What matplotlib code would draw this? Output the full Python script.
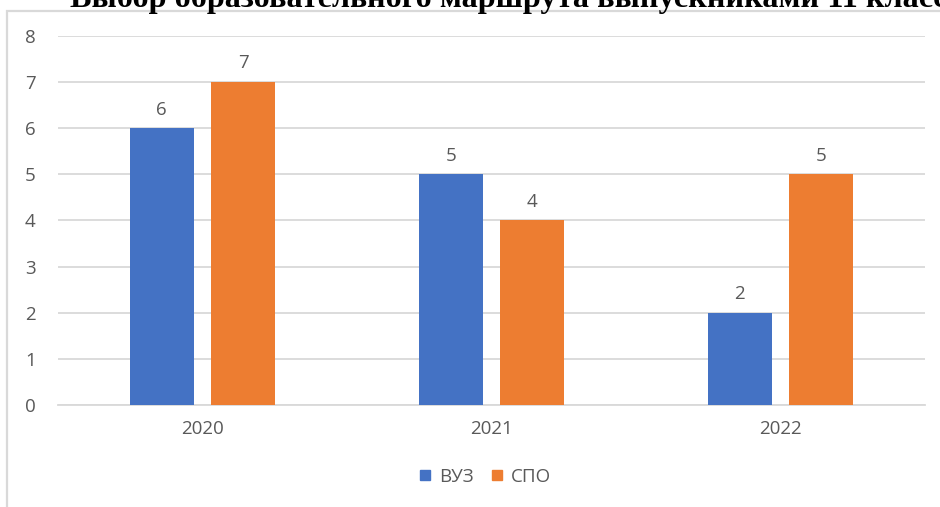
import numpy as np
from matplotlib import pyplot as plt
from matplotlib.patches import Rectangle
from matplotlib.lines import Line2D

years = ["2020", "2021", "2022"]
vuz = [6, 5, 2]
spo = [7, 4, 5]
series_names = ["ВУЗ", "СПО"]
title = "Выбор образовательного маршрута выпускниками 11 класса"

BLUE = "#4472c4"
ORANGE = "#ed7d31"
GREY_TEXT = "#595959"
GRID = "#d9d9d9"

plt.rcParams['font.family'] = ['Open Sans', 'DejaVu Sans']

fig = plt.figure(figsize=(9.4, 5.07), dpi=100)
W, H = 940, 507

# outer chart frame (only left and top edges visible)
fig.add_artist(Rectangle((7 / W, -0.1), 1.2, 1 - 11 / H + 0.1, transform=fig.transFigure,
                         fill=False, edgecolor=GRID, linewidth=1.6))

# cropped title sticking out above the frame
fig.text(70 / W, 1 - 7 / H, title, family='Liberation Serif', fontweight='bold',
         fontsize=23.2, va='baseline', ha='left', color='black')

ax = fig.add_axes([58 / W, 1 - 405 / H, 867 / W, 369 / H])
x = np.arange(len(years))
bw = 0.222
off = 0.141
b1 = ax.bar(x - off, vuz, bw, color=BLUE, zorder=3)
b2 = ax.bar(x + off, spo, bw, color=ORANGE, zorder=3)
for bars in (b1, b2):
    ax.bar_label(bars, padding=7, fontsize=13.5, color=GREY_TEXT)

ax.set_xlim(-0.5, 2.5)
ax.set_ylim(0, 8)
ax.set_yticks(range(0, 9))
ax.set_xticks(x, years)
ax.grid(axis='y', color=GRID, linewidth=1.3, zorder=0)
for s in ('top', 'right', 'left'):
    ax.spines[s].set_visible(False)
ax.spines['bottom'].set_color(GRID)
ax.spines['bottom'].set_linewidth(1.3)
ax.tick_params(axis='y', length=0, pad=16, labelsize=13.5, labelcolor=GREY_TEXT)
ax.tick_params(axis='x', length=0, pad=11, labelsize=13.5, labelcolor=GREY_TEXT)

handles = [Line2D([], [], marker='s', linestyle='', markersize=7, color=c) for c in (BLUE, ORANGE)]
fig.legend(handles, series_names, loc='center', bbox_to_anchor=(485 / W, 1 - 477 / H), ncol=2,
           frameon=False, fontsize=13.5, labelcolor=GREY_TEXT, handlelength=0.7,
           handletextpad=0.4, columnspacing=0.9)

fig.savefig("out.png", dpi=100)
